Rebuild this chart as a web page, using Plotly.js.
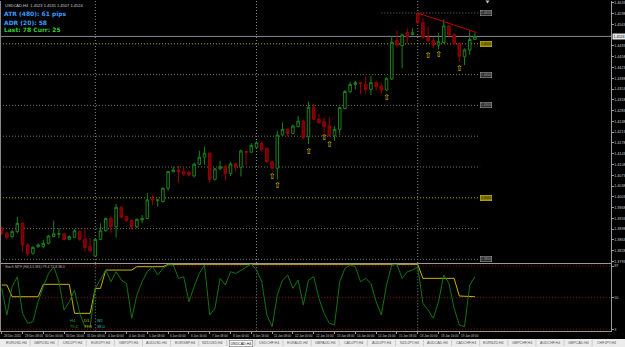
<!DOCTYPE html>
<html><head><meta charset="utf-8">
<script src="https://cdn.plot.ly/plotly-3.0.1.min.js"></script>
<style>html,body{margin:0;padding:0;background:#000;overflow:hidden}#chart{width:625px;height:347px}</style>
</head><body><div id="chart"></div>
<script>
// ---- Candles (USDCAD, H4) ----
const openP = [1.3901,1.3885,1.3874,1.3890,1.3917,1.3847,1.3820,1.3841,1.3841,1.3852,1.3874,1.3882,1.3883,1.3865,1.3872,1.3890,1.3865,1.3841,1.3811,1.3865,1.3893,1.3933,1.3906,1.3969,1.3939,1.3926,1.3906,1.3928,1.3933,1.3996,1.3991,1.3988,1.4031,1.4085,1.4090,1.4085,1.4082,1.4071,1.4109,1.4132,1.4145,1.4060,1.4094,1.4101,1.4079,1.4110,1.4099,1.4150,1.4148,1.4163,1.4177,1.4161,1.4117,1.4096,1.4204,1.4222,1.4209,1.4231,1.4249,1.4198,1.4294,1.4255,1.4247,1.4233,1.4201,1.4222,1.4290,1.4345,1.4368,1.4374,1.4368,1.4352,1.4374,1.4363,1.4350,1.4386,1.4510,1.4494,1.4537,1.4530,1.4599,1.4569,1.4521,1.4510,1.4496,1.4504,1.4558,1.4529,1.4502,1.4458,1.4480,1.4514];
const highP = [1.3906,1.3890,1.3895,1.3939,1.3920,1.3852,1.3843,1.3852,1.3863,1.3880,1.3926,1.3901,1.3886,1.3877,1.3898,1.3893,1.3901,1.3869,1.3868,1.3917,1.3936,1.3939,1.3980,1.3972,1.3942,1.3929,1.3933,1.3944,1.4015,1.4009,1.3995,1.4033,1.4087,1.4101,1.4104,1.4099,1.4088,1.4114,1.4153,1.4166,1.4147,1.4097,1.4120,1.4107,1.4116,1.4114,1.4157,1.4152,1.4177,1.4183,1.4183,1.4163,1.4120,1.4218,1.4244,1.4226,1.4238,1.4266,1.4253,1.4312,1.4307,1.4272,1.4261,1.4261,1.4233,1.4296,1.4350,1.4377,1.4380,1.4375,1.4395,1.4395,1.4380,1.4372,1.4391,1.4525,1.4543,1.4534,1.4550,1.4550,1.4601,1.4583,1.4556,1.4521,1.4534,1.4579,1.4561,1.4534,1.4504,1.4485,1.4543,1.4537];
const lowP = [1.3879,1.3865,1.3868,1.3885,1.3825,1.3811,1.3815,1.3838,1.3836,1.3849,1.3872,1.3869,1.3862,1.3862,1.3869,1.3860,1.3825,1.3822,1.3809,1.3862,1.3890,1.3885,1.3871,1.3933,1.3922,1.3898,1.3902,1.3917,1.3930,1.3977,1.3971,1.3985,1.4023,1.4082,1.4049,1.4071,1.4069,1.4066,1.4107,1.4107,1.4049,1.4056,1.4090,1.4056,1.4071,1.4085,1.4069,1.4105,1.4147,1.4160,1.4150,1.4114,1.4093,1.4060,1.4201,1.4199,1.4206,1.4229,1.4190,1.4175,1.4253,1.4240,1.4211,1.4198,1.4185,1.4204,1.4287,1.4339,1.4352,1.4337,1.4339,1.4334,1.4348,1.4339,1.4347,1.4382,1.4491,1.4420,1.4501,1.4528,1.4564,1.4516,1.4504,1.4485,1.4482,1.4501,1.4523,1.4496,1.4442,1.4431,1.4464,1.4512];
const closeP = [1.3885,1.3872,1.3890,1.3917,1.3847,1.3818,1.3839,1.3847,1.3852,1.3876,1.3883,1.3883,1.3865,1.3874,1.3893,1.3865,1.3839,1.3828,1.3865,1.3893,1.3933,1.3906,1.3969,1.3937,1.3926,1.3906,1.3930,1.3933,1.3993,1.3993,1.3993,1.4031,1.4085,1.4090,1.4085,1.4077,1.4074,1.4109,1.4132,1.4145,1.4060,1.4094,1.4101,1.4079,1.4110,1.4101,1.4152,1.4148,1.4170,1.4179,1.4157,1.4117,1.4096,1.4204,1.4222,1.4209,1.4233,1.4249,1.4196,1.4294,1.4255,1.4244,1.4231,1.4201,1.4222,1.4293,1.4345,1.4368,1.4374,1.4372,1.4352,1.4374,1.4361,1.4350,1.4388,1.4505,1.4496,1.4529,1.4523,1.4536,1.4569,1.4521,1.4510,1.4496,1.4507,1.4558,1.4529,1.4502,1.4460,1.4480,1.4514,1.4524];

// ---- Up-arrow signals (bar index, price) ----
const arrowBar = [52,53,59,62,63,74,82,84,88];
const arrowPrice = [1.4068,1.4038,1.4149,1.4193,1.4170,1.4324,1.4462,1.4465,1.4418];

// ---- Trend line ----
const trendBar = [80,91.3];
const trendPrice = [1.4600,1.4537];

// ---- Horizontal round-number levels ----
const greyLevels = [1.46,1.44,1.43,1.42,1.41,1.39,1.38];
const greyStart = [73,-1,-1,-1,-1,-1,-1];
const greyBoxed = [true,true,true,false,false,false,true];
const yellowLevels = [1.45,1.40];
const levelEndBar = 92;
const currentPrice = 1.4524;
const separatorBars = [18,49,80];

// ---- Price scale labels ----
const priceTicks = [1.4633,1.4598,1.4563,1.4493,1.4458,1.4423,1.4388,1.4353,1.4318,1.4283,1.4248,1.4213,1.4178,1.4143,1.4108,1.4073,1.4038,1.4003,1.3968,1.3933,1.3898,1.3863,1.3828,1.3793];

// ---- Time labels ----
const timeBars = [0,4,8,12,16,20,24,28,32,36,40,44,48,52,56,60,64,68,72,76,80,84,88];
const timeLabels = ["28 Dec 2015","29 Dec 08:00","30 Dec 00:00","30 Dec 16:00","31 Dec 08:00","4 Jan 00:00","4 Jan 16:00","5 Jan 08:00","6 Jan 00:00","6 Jan 16:00","7 Jan 08:00","8 Jan 00:00","8 Jan 16:00","11 Jan 08:00","12 Jan 00:00","12 Jan 16:00","13 Jan 08:00","14 Jan 00:00","14 Jan 16:00","15 Jan 08:00","18 Jan 00:00","18 Jan 16:00","19 Jan 08:00"];

// ---- Indicator (stochastic, multi-timeframe) ----
const h4Line = [63.8,24.2,66.3,81.1,26.7,11.8,14.3,44,66.3,86,96,73.7,31.6,44,61.3,26.7,6.9,6.9,63.8,78.6,91,73.7,88.6,76.2,71.2,19.3,53.9,73.7,88.6,96,83.6,93.5,98.5,98.5,78.6,81.1,44,66.3,86,98.5,24.2,34.1,78.6,68.8,88.6,86,91,96,100,91,73.7,24.2,6.9,53.9,76.2,83.6,63.8,76.2,39,76.2,81.1,48.9,26.7,11.8,9.4,73.7,93.5,98.5,96,73.7,78.6,71.2,44,24.2,68.8,98.5,99.5,78.6,88.6,91,96,41.5,31.6,19.3,44,83.6,71.2,34.1,9.4,6.9,68.8,81.1];
const d1Line = [68.8,68.8,51.4,51.4,51.4,51.4,51.4,51.4,69.8,69.8,69.8,69.8,69.8,69.8,26.7,26.7,26.7,26.7,63.8,63.8,91,91,91,91,91,91,96,96,96,96,96,96,99.5,99.5,99.5,99.5,99.5,99.5,99.5,99.5,99.5,99.5,99.5,99.5,99.5,99.5,99.5,99.5,99.5,99.5,99.5,99.5,99.5,99.5,99.5,99.5,99.5,99.5,99.5,99.5,99.5,99.5,99.5,99.5,99.5,99.5,99.5,99.5,99.5,99.5,99.5,99.5,99.5,99.5,99.5,99.5,99.5,99.5,99.5,99.5,99.5,78.7,78.7,78.7,78.7,78.7,78.7,78.7,52.4,52.4,52.4,51.4];
const w1Line = [101,101,101,101,101,101,101,101,101,101,101,101,101,101,101,101,101,101,101,101,101,101,101,101,101,101,101,101,101,101,101,101,101,101,101,101,101,101,101,101,101,101,101,101,101,101,101,101,101,101,101,101,101,101,101,101,101,101,101,101,101,101,101,101,101,101,101,101,101,101,101,101,101,101,101,101,101,101,101,101,101,101,101,101,101,101,101,101,101,101,101,101];
const oscLevels = [97,50,3];

// ---- Info texts ----
const headerText = "USDCAD,H4  1.4523 1.4531 1.4507 1.4524";
const infoLines = ["ATR (480): 61 pips","ADR (20): 58","Last: 78 Curr: 25"];
const infoColors = ["#3b9cff","#3b9cff","#2fd12f"];
const mtfNames = ["H4","D1","W1"];
const mtfValues = ["79.4","77.8","38.0"];
const mtfColors = ["#22aa22","#d4c400","#20c0c0"];

// ---- Symbol tabs ----
const tabs = ["EURUSD,H4","GBPUSD,H4","USDJPY,H4","EURJPY,H4","GBPJPY,H4","AUDUSD,H4","EURGBP,H4","NZDUSD,H4","USDCAD,H4","USDCHF,H4","EURAUD,H4","GBPAUD,H4","CADJPY,H4","AUDJPY,H4","NZDJPY,H4","AUDCAD,H4","CADCHF,H4","EURNZD,H4","GBPCHF,H4","AUDCHF,H4","GBPCAD,H4","CHFJPY,H4"];
const activeTab = "USDCAD,H4";

const bars = openP.map((_, i) => i);
const W = 625, H = 347, PR = 14;
const mainDom = [1 - 263/H, 1 - 1/H];
const oscDom = [1 - 331.3/H, 1 - 264/H];
const xr = [-0.33, 117.17];
const DOT = '1px,2px';
const FONT = 'Liberation Sans';

const traces = [
  {type:'candlestick', x:bars, open:openP, high:highP, low:lowP, close:closeP, xaxis:'x', yaxis:'y',
   increasing:{line:{color:'#1b821b', width:1}, fillcolor:'#000000'},
   decreasing:{line:{color:'#9a0000', width:1}, fillcolor:'#6e0000'},
   whiskerwidth:0, hoverinfo:'skip', showlegend:false},
  {type:'scatter', mode:'lines', x:trendBar, y:trendPrice, xaxis:'x', yaxis:'y',
   line:{color:'#c00000', width:1}, hoverinfo:'skip', showlegend:false},
  {type:'scatter', mode:'text', x:arrowBar, y:arrowPrice, text:arrowBar.map(() => '\u21E7'), xaxis:'x', yaxis:'y',
   textfont:{family:'DejaVu Sans', size:8, color:'#e8d000'}, hoverinfo:'skip', showlegend:false},
  {type:'scatter', mode:'lines', x:bars, y:w1Line, xaxis:'x2', yaxis:'y2', cliponaxis:false,
   line:{color:'#2aa8a8', width:1.5}, hoverinfo:'skip', showlegend:false},
  {type:'scatter', mode:'lines', x:bars, y:d1Line, xaxis:'x2', yaxis:'y2',
   line:{color:'#c8b400', width:1}, hoverinfo:'skip', showlegend:false},
  {type:'scatter', mode:'lines', x:bars, y:h4Line, xaxis:'x2', yaxis:'y2',
   line:{color:'#127312', width:1}, hoverinfo:'skip', showlegend:false}
];

const shapes = [];
const annotations = [];
function levelBox(p, isYellow) {
  annotations.push({xref:'x', yref:'y', x:levelEndBar, y:p, xanchor:'left', yanchor:'middle', text:p.toFixed(4), showarrow:false,
    bgcolor: isYellow ? '#8c8200' : '#2a2a2a', bordercolor: isYellow ? '#d8c800' : '#9a9a9a', borderwidth:0.6, borderpad:0.3,
    font:{family:FONT, size:3.4, color: isYellow ? '#202000' : '#a0a0a0'}});
}
greyLevels.forEach((p, k) => {
  shapes.push({type:'line', xref:'x', yref:'y', x0:greyStart[k] < 0 ? xr[0] : greyStart[k], x1:levelEndBar, y0:p, y1:p, layer:'below', line:{color:'#707070', width:1, dash:DOT}});
  if (greyBoxed[k]) levelBox(p, false);
});
yellowLevels.forEach(p => {
  shapes.push({type:'line', xref:'x', yref:'y', x0:xr[0], x1:levelEndBar, y0:p, y1:p, layer:'below', line:{color:'#b0a000', width:1, dash:DOT}});
  levelBox(p, true);
});
separatorBars.forEach(b => {
  shapes.push({type:'line', xref:'x', yref:'paper', x0:b, x1:b, y0:mainDom[0], y1:mainDom[1], layer:'below', line:{color:'#8a8a8a', width:1, dash:DOT}});
  shapes.push({type:'line', xref:'x2', yref:'paper', x0:b, x1:b, y0:oscDom[0], y1:oscDom[1], layer:'below', line:{color:'#8a8a8a', width:1, dash:DOT}});
});
oscLevels.forEach(v => shapes.push({type:'line', xref:'x2', yref:'y2', x0:xr[0], x1:xr[1], y0:v, y1:v, layer:'below', line:{color:'#8a0000', width:1, dash:DOT}}));
shapes.push({type:'line', xref:'x', yref:'y', x0:xr[0], x1:xr[1], y0:currentPrice, y1:currentPrice, layer:'below', line:{color:'#8a8a8a', width:1}});
shapes.push({type:'line', xref:'paper', yref:'paper', x0:0.0008, x1:0.0008, y0:oscDom[0], y1:mainDom[1], line:{color:'#8a8a8a', width:1}});
shapes.push({type:'rect', xref:'paper', yref:'paper', x0:0, x1:W/(W-PR), y0:0, y1:(H-339)/H, fillcolor:'#ececec', line:{width:0}, layer:'below'});
// chart-shift marker at top edge
shapes.push({type:'path', xref:'paper', yref:'paper', path:'M '+(485.5/(W-PR))+' '+(1-0.5/H)+' L '+(489.5/(W-PR))+' '+(1-0.5/H)+' L '+(487.5/(W-PR))+' '+(1-3.5/H)+' Z', fillcolor:'#c0c0c0', line:{width:0}});

const px2paperX = px => px/(W-PR);
const px2paperY = py => 1 - py/H;
annotations.push({xref:'paper', yref:'paper', x:px2paperX(3), y:px2paperY(1), xanchor:'left', yanchor:'top', text:headerText, showarrow:false, font:{family:FONT, size:4, color:'#d0d0d0'}});
infoLines.forEach((t, k) => annotations.push({xref:'paper', yref:'paper', x:px2paperX(2), y:px2paperY(14.3 + k*7.7), xanchor:'left', yanchor:'middle', text:'<b>'+t+'</b>', showarrow:false, font:{family:'DejaVu Sans', size:6, color:infoColors[k]}}));
annotations.push({xref:'paper', yref:'paper', x:px2paperX(3), y:px2paperY(266.5), xanchor:'left', yanchor:'middle', text:'Stoch MTF (H4,D1,W1) 79.4 77.8 38.0', showarrow:false, font:{family:FONT, size:3.5, color:'#b0b0b0'}});
mtfNames.forEach((n, k) => {
  annotations.push({xref:'paper', yref:'paper', x:px2paperX(68 + k*13.5), y:px2paperY(320), xanchor:'left', yanchor:'middle', text:n, showarrow:false, font:{family:FONT, size:4, color:mtfColors[k]}});
  annotations.push({xref:'paper', yref:'paper', x:px2paperX(68 + k*13.5), y:px2paperY(326), xanchor:'left', yanchor:'middle', text:mtfValues[k], showarrow:false, font:{family:FONT, size:4, color:mtfColors[k]}});
});
timeBars.forEach((b, k) => annotations.push({xref:'x2', yref:'paper', x:b, y:px2paperY(335.5), xanchor:'left', yanchor:'middle', text:timeLabels[k], showarrow:false, font:{family:FONT, size:3, color:'#c8c8c8'}}));
annotations.push({xref:'paper', yref:'y', x:1, y:currentPrice, xanchor:'left', yanchor:'middle', xshift:1, text:currentPrice.toFixed(4), showarrow:false, bgcolor:'#e8e8e8', borderpad:0.5, font:{family:FONT, size:3.6, color:'#000'}});
const tabW = 28.1;
tabs.forEach((t, k) => {
  const x0 = 2 + k*tabW;
  const active = t === activeTab;
  annotations.push({xref:'paper', yref:'paper', x:px2paperX(x0 + tabW/2), y:px2paperY(343), xanchor:'center', yanchor:'middle', text:t, showarrow:false,
    bgcolor: active ? '#ffffff' : 'rgba(0,0,0,0)', bordercolor: active ? '#555' : 'rgba(0,0,0,0)', borderwidth: active ? 0.5 : 0, borderpad:1,
    font:{family:FONT, size:3.6, color: active ? '#000' : '#555'}});
  if (k > 0) shapes.push({type:'line', xref:'paper', yref:'paper', x0:px2paperX(x0), x1:px2paperX(x0), y0:px2paperY(346), y1:px2paperY(340), line:{color:'#aaaaaa', width:0.5}});
});

const axisCommon = {showgrid:false, zeroline:false, color:'#c8c8c8', linecolor:'#9a9a9a', tickcolor:'#9a9a9a'};
const layout = {
  width:W, height:H, margin:{l:0, r:PR, t:0, b:0},
  paper_bgcolor:'#000000', plot_bgcolor:'#000000', showlegend:false,
  xaxis:Object.assign({}, axisCommon, {domain:[0,1], range:xr, anchor:'y', showticklabels:false, ticks:'', showline:true, mirror:false, rangeslider:{visible:false}}),
  yaxis:Object.assign({}, axisCommon, {domain:mainDom, range:[1.37882,1.46390], side:'right', anchor:'x', tickvals:priceTicks, ticktext:priceTicks.map(v => v.toFixed(4)), ticks:'outside', ticklen:1.5, ticklabelstandoff:0, showline:true, tickfont:{family:FONT, size:3.7, color:'#c8c8c8'}}),
  xaxis2:Object.assign({}, axisCommon, {domain:[0,1], range:xr, anchor:'y2', showticklabels:false, tickvals:timeBars, ticks:'outside', ticklen:2, showline:true}),
  yaxis2:Object.assign({}, axisCommon, {domain:oscDom, range:[0,100], side:'right', anchor:'x2', tickvals:oscLevels, ticktext:oscLevels.map(String), ticks:'outside', ticklen:1.5, ticklabelstandoff:0, showline:true, tickfont:{family:FONT, size:3.7, color:'#c8c8c8'}}),
  shapes:shapes, annotations:annotations
};
Plotly.newPlot('chart', traces, layout, {staticPlot:true, displayModeBar:false});
</script></body></html>
